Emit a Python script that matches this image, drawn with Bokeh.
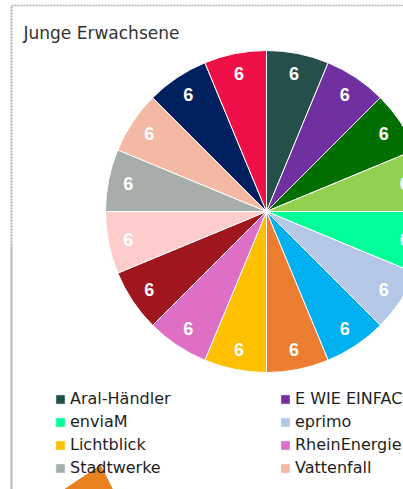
import math
from bokeh.plotting import figure
from bokeh.models import ColumnDataSource, Range1d, Legend, LegendItem, Label
from bokeh.core.properties import value
from bokeh.embed import file_html
from bokeh.resources import INLINE

# ---- data ----
title_text = "Junge Erwachsene"
slice_values = [6, 6, 6, 6, 6, 6, 6, 6, 6, 6, 6, 6, 6, 6, 6, 6]
slice_colors = ["#254f4b", "#7030a0", "#006f00", "#92d050",
                "#00ff99", "#b4c7e7", "#00b0f0", "#ed7d31",
                "#ffc000", "#de6fc5", "#a0161e", "#ffcccc",
                "#a6adaa", "#f4b9a4", "#002060", "#ef1048"]
legend_labels = ["Aral-Händler", "E WIE EINFACH", "enviaM", "eprimo",
                 "Lichtblick", "RheinEnergie", "Stadtwerke", "Vattenfall"]
legend_slices = [0, 1, 4, 5, 8, 9, 12, 13]

# ---- geometry ----
W, H = 403, 489
cx, cy, R, r_lab = 266, 278, 161, 141

total = sum(slice_values)
starts, ends, lx, ly = [], [], [], []
acc = 0.0
for v in slice_values:
    a0 = math.pi / 2 - acc / total * 2 * math.pi
    acc += v
    a1 = math.pi / 2 - acc / total * 2 * math.pi
    starts.append(a0)
    ends.append(a1)
    mid = (a0 + a1) / 2
    lx.append(cx + r_lab * math.cos(mid))
    ly.append(cy + r_lab * math.sin(mid))

src = ColumnDataSource(dict(start=starts, end=ends, color=slice_colors,
                            lx=lx, ly=ly, txt=[str(v) for v in slice_values]))

p = figure(width=W, height=H, output_backend="svg", toolbar_location=None,
           x_axis_location=None, y_axis_location=None, min_border=0,
           x_range=Range1d(0, W), y_range=Range1d(0, H))
p.grid.visible = False
p.outline_line_color = None
p.background_fill_color = "white"
p.border_fill_color = "white"

# chart frame lines
p.line([11, W], [484, 484], line_color="#b0b0b0", line_width=1.5, line_dash="2 1")
p.line([11, 11], [244, 484], line_color="#b0b0b0", line_width=2, line_dash="2 1")
p.line([11, 11], [0, 244], line_color="#b8b8b8", line_width=2)

wedges = p.wedge(x=cx, y=cy, radius=R, start_angle="start", end_angle="end",
                 direction="clock", fill_color="color", line_color="white",
                 line_width=1, source=src)

p.text(x="lx", y="ly", text="txt", source=src, text_color="white",
       text_font=value("Liberation Sans"), text_font_style="bold",
       text_font_size="18px", text_align="center", text_baseline="middle")

p.add_layout(Label(x=23, y=457, x_units="screen", y_units="screen",
                   text=title_text, text_font="DejaVu Sans",
                   text_font_size="17px", text_color="#333333",
                   text_baseline="alphabetic"))

def make_legend(idx_list, loc):
    items = [LegendItem(label=legend_labels[k], renderers=[wedges],
                        index=legend_slices[k]) for k in idx_list]
    return Legend(items=items, location=loc, orientation="vertical",
                  label_text_font="DejaVu Sans", label_text_font_size="16px",
                  label_text_color="#1e1e1e", glyph_width=12, glyph_height=12,
                  label_standoff=4, label_height=23, spacing=0, padding=0,
                  margin=0, border_line_color=None, background_fill_alpha=0)

p.add_layout(make_legend([0, 2, 4, 6], (54, 10)))
p.add_layout(make_legend([1, 3, 5, 7], (279, 10)))

# orange pointer arrow overlay (head only visible)
p.patch([100, 52, 116], [24, -8, -8], fill_color="#e8821e", line_color="#e8821e")

open("out.html", "w").write(file_html(p, INLINE))
